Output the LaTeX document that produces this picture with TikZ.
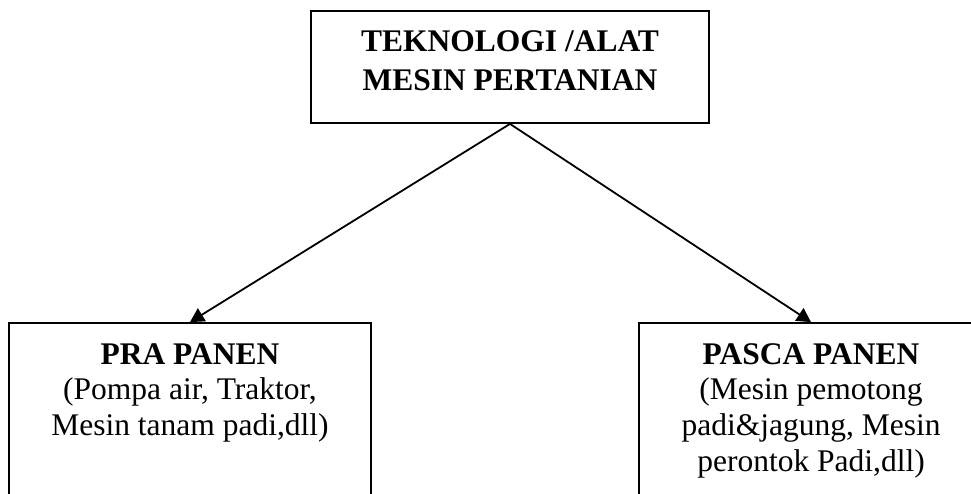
\documentclass[tikz,border=0pt]{standalone}
\usepackage{fontspec}
\setmainfont{Liberation Serif}
\usetikzlibrary{arrows.meta}
\begin{document}
\begin{tikzpicture}[x=1pt,y=-1pt,
  box/.style={draw, line width=1.8pt, rectangle, inner sep=0pt},
  lbl/.style={anchor=base, inner sep=0pt, font=\fontsize{31.5}{36}\selectfont},
  hd/.style={anchor=base, inner sep=0pt, font=\fontsize{31.5}{36}\selectfont\bfseries},
  conn/.style={line width=1.8pt, -{Triangle[length=14pt,width=15pt]}}]
\useasboundingbox (0,0) rectangle (971,493);
\clip (0,0) rectangle (971,493);
\node[box, minimum width=398pt, minimum height=112pt] (top) at (510,67) {};
\node[box, minimum width=362pt, minimum height=240pt] (pra) at (190,443) {};
\node[box, minimum width=344pt, minimum height=240pt] (pasca) at (811,443) {};
\node[hd] (t1) at (510,51) {TEKNOLOGI /ALAT};
\node[hd] (t2) at (510,90) {MESIN PERTANIAN};
\node[hd] (p1) at (190,364) {PRA PANEN};
\node[lbl] (p2) at (190,399) {(Pompa air, Traktor,};
\node[lbl] (p3) at (190,435) {Mesin tanam padi,dll)};
\node[hd] (q1) at (811,364) {PASCA PANEN};
\node[lbl] (q2) at (811,399) {(Mesin pemotong};
\node[lbl] (q3) at (811,435) {padi\&jagung, Mesin};
\node[lbl] (q4) at (811,471) {perontok Padi,dll)};
\draw[conn] (top.south) -- (pra.north);
\draw[conn] (top.south) -- (pasca.north);
\end{tikzpicture}
\end{document}
